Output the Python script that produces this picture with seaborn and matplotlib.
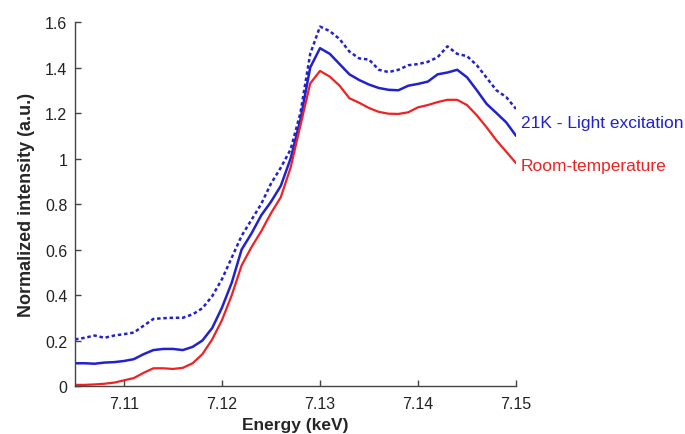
import numpy as np
import pandas as pd
import seaborn as sns
from matplotlib import pyplot as plt

# energy grid (keV) and normalized intensities
energy = [7.105, 7.106, 7.107, 7.108, 7.109, 7.110, 7.111, 7.112, 7.113, 7.114,
          7.115, 7.116, 7.117, 7.118, 7.119, 7.120, 7.121, 7.122, 7.123, 7.124,
          7.125, 7.126, 7.127, 7.128, 7.129, 7.130, 7.131, 7.132, 7.133, 7.134,
          7.135, 7.136, 7.137, 7.138, 7.139, 7.140, 7.141, 7.142, 7.143, 7.144,
          7.145, 7.146, 7.147, 7.148, 7.149, 7.150]
room_temp = [0.005, 0.005, 0.007, 0.010, 0.015, 0.025, 0.035, 0.058, 0.078, 0.078,
             0.075, 0.080, 0.100, 0.140, 0.205, 0.290, 0.400, 0.530, 0.610, 0.680,
             0.760, 0.830, 0.960, 1.145, 1.330, 1.385, 1.360, 1.320, 1.265, 1.245,
             1.222, 1.205, 1.197, 1.196, 1.203, 1.225, 1.235, 1.248, 1.258, 1.258,
             1.235, 1.190, 1.137, 1.080, 1.030, 0.980]
light_21k = [0.100, 0.100, 0.098, 0.103, 0.105, 0.110, 0.118, 0.140, 0.158, 0.163,
             0.163, 0.158, 0.172, 0.200, 0.255, 0.345, 0.455, 0.600, 0.670, 0.750,
             0.810, 0.880, 1.000, 1.170, 1.400, 1.485, 1.460, 1.415, 1.370, 1.345,
             1.325, 1.310, 1.302, 1.300, 1.320, 1.328, 1.338, 1.370, 1.378, 1.390,
             1.357, 1.300, 1.240, 1.200, 1.159, 1.100]
dark_21k = [0.205, 0.212, 0.222, 0.212, 0.222, 0.228, 0.235, 0.265, 0.295, 0.298,
            0.300, 0.300, 0.315, 0.342, 0.395, 0.470, 0.565, 0.660, 0.730, 0.800,
            0.890, 0.960, 1.040, 1.200, 1.460, 1.580, 1.560, 1.525, 1.470, 1.440,
            1.435, 1.390, 1.380, 1.390, 1.410, 1.415, 1.425, 1.445, 1.493, 1.460,
            1.450, 1.410, 1.355, 1.300, 1.270, 1.218]

x_ticks = [7.11, 7.12, 7.13, 7.14, 7.15]
x_ticklabels = ['7.11', '7.12', '7.13', '7.14', '7.15']
y_ticks = [0, 0.2, 0.4, 0.6, 0.8, 1.0, 1.2, 1.4, 1.6]
y_ticklabels = ['0', '0.2', '0.4', '0.6', '0.8', '1', '1.2', '1.4', '1.6']

df = pd.DataFrame({'energy': energy, 'rt': room_temp, 'light': light_21k, 'dark': dark_21k})

sns.set_style('ticks')
plt.rcParams['font.family'] = ['Liberation Sans', 'DejaVu Sans']

blue = '#2222cc'
red = '#ee2222'
fig = plt.figure(figsize=(6.85, 4.35), dpi=100)
ax = fig.add_axes([0.1095, 0.1103, 0.6438, 0.8368])

sns.lineplot(data=df, x='energy', y='dark', color=blue, lw=1.8, ax=ax,
             linestyle=(0, (1.4, 1.1)))
sns.lineplot(data=df, x='energy', y='light', color=blue, lw=1.8, ax=ax)
sns.lineplot(data=df, x='energy', y='rt', color=red, lw=1.6, ax=ax)

ax.set_xlim(7.105, 7.15)
ax.set_ylim(0, 1.6)
ax.set_xticks(x_ticks)
ax.set_xticklabels(x_ticklabels)
ax.set_yticks(y_ticks)
ax.set_yticklabels(y_ticklabels)
ax.tick_params(direction='in', length=4.5, width=1, color='#444444',
               labelsize=11.5, labelcolor='#222222')
ax.tick_params(axis='x', pad=7)
ax.tick_params(axis='y', pad=5.5)
for s in ['left', 'bottom']:
    ax.spines[s].set_color('#444444')
    ax.spines[s].set_linewidth(1)
sns.despine(ax=ax)

ax.set_xlabel('Energy (keV)', fontsize=12.5, fontweight='bold', labelpad=4.5)
ax.set_ylabel('Normalized intensity (a.u.)', fontsize=13, fontweight='bold', labelpad=7)

ax.text(7.1505, 1.16, '21K - Light excitation', color=blue, fontsize=12.5,
        va='center', ha='left', clip_on=False)
ax.text(7.1505, 0.97, 'Room-temperature', color=red, fontsize=12.5,
        va='center', ha='left', clip_on=False)

fig.savefig('out.png', dpi=100)
